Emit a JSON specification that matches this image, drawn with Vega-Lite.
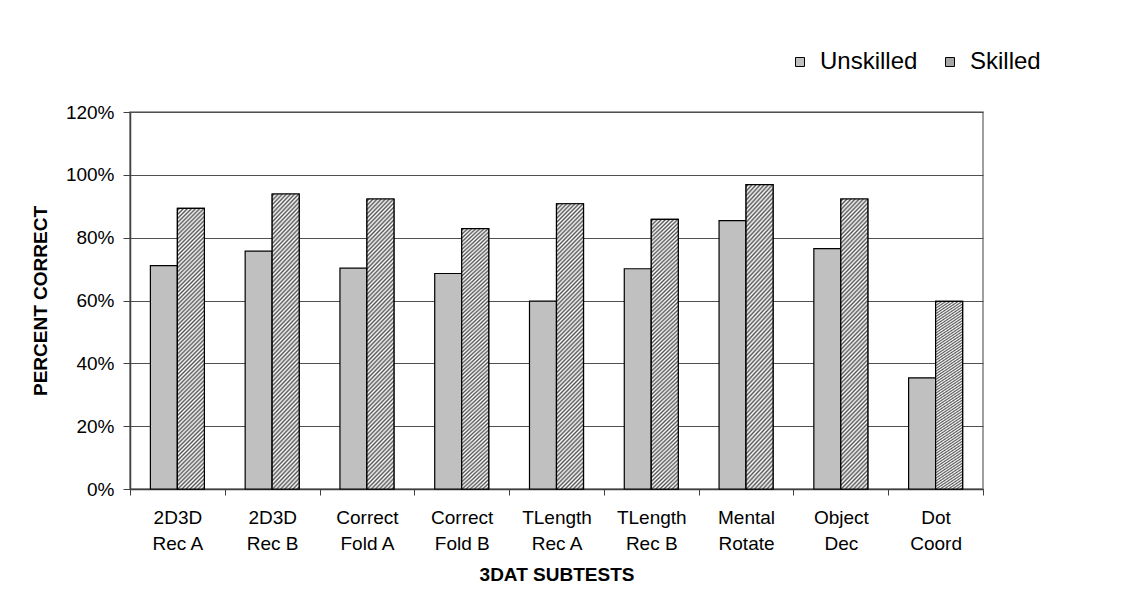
{
  "$schema": "https://vega.github.io/schema/vega-lite/v6.json",
  "width": 853,
  "height": 377,
  "autosize": {"type": "none"},
  "padding": {"left": 130, "top": 112, "right": 155, "bottom": 123},
  "background": "white",
  "config": {
    "font": "Liberation Sans",
    "view": {"stroke": "#808080", "strokeWidth": 1.5}
  },
  "data": {
    "values": [
      {"subtest": "2D3D Rec A", "group": "Unskilled", "pct": 0.711},
      {"subtest": "2D3D Rec A", "group": "Skilled", "pct": 0.893},
      {"subtest": "2D3D Rec B", "group": "Unskilled", "pct": 0.757},
      {"subtest": "2D3D Rec B", "group": "Skilled", "pct": 0.939},
      {"subtest": "Correct Fold A", "group": "Unskilled", "pct": 0.703},
      {"subtest": "Correct Fold A", "group": "Skilled", "pct": 0.923},
      {"subtest": "Correct Fold B", "group": "Unskilled", "pct": 0.686},
      {"subtest": "Correct Fold B", "group": "Skilled", "pct": 0.829},
      {"subtest": "TLength Rec A", "group": "Unskilled", "pct": 0.598},
      {"subtest": "TLength Rec A", "group": "Skilled", "pct": 0.908},
      {"subtest": "TLength Rec B", "group": "Unskilled", "pct": 0.701},
      {"subtest": "TLength Rec B", "group": "Skilled", "pct": 0.858},
      {"subtest": "Mental Rotate", "group": "Unskilled", "pct": 0.854},
      {"subtest": "Mental Rotate", "group": "Skilled", "pct": 0.969},
      {"subtest": "Object Dec", "group": "Unskilled", "pct": 0.765},
      {"subtest": "Object Dec", "group": "Skilled", "pct": 0.923},
      {"subtest": "Dot Coord", "group": "Unskilled", "pct": 0.354},
      {"subtest": "Dot Coord", "group": "Skilled", "pct": 0.597}
    ]
  },
  "encoding": {
    "x": {
      "field": "subtest",
      "type": "nominal",
      "sort": null,
      "scale": {"paddingInner": 0, "paddingOuter": 0},
      "axis": {
        "title": "3DAT SUBTESTS",
        "titleFontSize": 19,
        "titleFontWeight": "bold",
        "titleColor": "black",
        "titlePadding": 12,
        "labelAngle": 0,
        "labelFontSize": 19,
        "labelColor": "black",
        "labelExpr": "[slice(datum.label, 0, indexof(datum.label, ' ')), slice(datum.label, indexof(datum.label, ' ') + 1)]",
        "labelLineHeight": 26,
        "labelPadding": 13,
        "tickBand": "extent",
        "tickSize": 6,
        "tickColor": "#404040",
        "domainColor": "#404040",
        "domainWidth": 1.5,
        "grid": false
      }
    },
    "xOffset": {
      "field": "group",
      "type": "nominal",
      "sort": ["Unskilled", "Skilled"],
      "scale": {"paddingInner": 0, "paddingOuter": 0.755}
    },
    "y": {
      "field": "pct",
      "type": "quantitative",
      "scale": {"domain": [0, 1.2], "nice": false},
      "axis": {
        "title": "PERCENT CORRECT",
        "titleFontSize": 19,
        "titleFontWeight": "bold",
        "titleColor": "black",
        "titlePadding": 15,
        "values": [0, 0.2, 0.4, 0.6, 0.8, 1.0, 1.2],
        "format": ".0%",
        "labelFontSize": 19,
        "labelColor": "black",
        "labelPadding": 9,
        "tickSize": 7,
        "tickColor": "#404040",
        "domainColor": "#404040",
        "domainWidth": 1.5,
        "gridColor": "#505050",
        "gridWidth": 1
      }
    }
  },
  "layer": [
    {
      "mark": {"type": "bar", "stroke": "black", "strokeWidth": 1.2},
      "encoding": {
        "fill": {
          "field": "group",
          "type": "nominal",
          "sort": ["Unskilled", "Skilled"],
          "scale": {"domain": ["Unskilled", "Skilled"], "range": ["#c0c0c0", "#a6a6a6"]},
          "legend": {
            "title": null,
            "orient": "none",
            "direction": "horizontal",
            "legendX": 658,
            "legendY": -62,
            "symbolType": "square",
            "symbolSize": 81,
            "symbolStrokeColor": "black",
            "symbolStrokeWidth": 1,
            "symbolOpacity": 1,
            "labelFontSize": 24,
            "labelColor": "black",
            "labelOffset": 8,
            "columnPadding": 20,
            "encode": {
              "symbols": {
                "update": {
                  "stroke": {"value": "black"},
                  "strokeWidth": {"value": 1}
                }
              }
            }
          }
        }
      }
    },
    {
      "transform": [{"filter": "datum.group === 'Skilled'"}],
      "mark": {
        "type": "bar",
        "stroke": "black",
        "strokeWidth": 1.2,
        "fill": {
          "gradient": "linear",
          "x1": 0, "y1": 0, "x2": 0.1048, "y2": 1.0864,
          "stops": [
            {"offset": 0, "color": "#fff"}, {"offset": 0.0067, "color": "#555"}, {"offset": 0.0133, "color": "#fff"}, {"offset": 0.02, "color": "#555"}, {"offset": 0.0267, "color": "#fff"}, {"offset": 0.0333, "color": "#555"}, {"offset": 0.04, "color": "#fff"}, {"offset": 0.0467, "color": "#555"}, {"offset": 0.0533, "color": "#fff"}, {"offset": 0.06, "color": "#555"}, {"offset": 0.0667, "color": "#fff"}, {"offset": 0.0733, "color": "#555"}, {"offset": 0.08, "color": "#fff"}, {"offset": 0.0867, "color": "#555"}, {"offset": 0.0933, "color": "#fff"},
            {"offset": 0.1, "color": "#555"}, {"offset": 0.1067, "color": "#fff"}, {"offset": 0.1133, "color": "#555"}, {"offset": 0.12, "color": "#fff"}, {"offset": 0.1267, "color": "#555"}, {"offset": 0.1333, "color": "#fff"}, {"offset": 0.14, "color": "#555"}, {"offset": 0.1467, "color": "#fff"}, {"offset": 0.1533, "color": "#555"}, {"offset": 0.16, "color": "#fff"}, {"offset": 0.1667, "color": "#555"}, {"offset": 0.1733, "color": "#fff"}, {"offset": 0.18, "color": "#555"}, {"offset": 0.1867, "color": "#fff"}, {"offset": 0.1933, "color": "#555"},
            {"offset": 0.2, "color": "#fff"}, {"offset": 0.2067, "color": "#555"}, {"offset": 0.2133, "color": "#fff"}, {"offset": 0.22, "color": "#555"}, {"offset": 0.2267, "color": "#fff"}, {"offset": 0.2333, "color": "#555"}, {"offset": 0.24, "color": "#fff"}, {"offset": 0.2467, "color": "#555"}, {"offset": 0.2533, "color": "#fff"}, {"offset": 0.26, "color": "#555"}, {"offset": 0.2667, "color": "#fff"}, {"offset": 0.2733, "color": "#555"}, {"offset": 0.28, "color": "#fff"}, {"offset": 0.2867, "color": "#555"}, {"offset": 0.2933, "color": "#fff"},
            {"offset": 0.3, "color": "#555"}, {"offset": 0.3067, "color": "#fff"}, {"offset": 0.3133, "color": "#555"}, {"offset": 0.32, "color": "#fff"}, {"offset": 0.3267, "color": "#555"}, {"offset": 0.3333, "color": "#fff"}, {"offset": 0.34, "color": "#555"}, {"offset": 0.3467, "color": "#fff"}, {"offset": 0.3533, "color": "#555"}, {"offset": 0.36, "color": "#fff"}, {"offset": 0.3667, "color": "#555"}, {"offset": 0.3733, "color": "#fff"}, {"offset": 0.38, "color": "#555"}, {"offset": 0.3867, "color": "#fff"}, {"offset": 0.3933, "color": "#555"},
            {"offset": 0.4, "color": "#fff"}, {"offset": 0.4067, "color": "#555"}, {"offset": 0.4133, "color": "#fff"}, {"offset": 0.42, "color": "#555"}, {"offset": 0.4267, "color": "#fff"}, {"offset": 0.4333, "color": "#555"}, {"offset": 0.44, "color": "#fff"}, {"offset": 0.4467, "color": "#555"}, {"offset": 0.4533, "color": "#fff"}, {"offset": 0.46, "color": "#555"}, {"offset": 0.4667, "color": "#fff"}, {"offset": 0.4733, "color": "#555"}, {"offset": 0.48, "color": "#fff"}, {"offset": 0.4867, "color": "#555"}, {"offset": 0.4933, "color": "#fff"},
            {"offset": 0.5, "color": "#555"}, {"offset": 0.5067, "color": "#fff"}, {"offset": 0.5133, "color": "#555"}, {"offset": 0.52, "color": "#fff"}, {"offset": 0.5267, "color": "#555"}, {"offset": 0.5333, "color": "#fff"}, {"offset": 0.54, "color": "#555"}, {"offset": 0.5467, "color": "#fff"}, {"offset": 0.5533, "color": "#555"}, {"offset": 0.56, "color": "#fff"}, {"offset": 0.5667, "color": "#555"}, {"offset": 0.5733, "color": "#fff"}, {"offset": 0.58, "color": "#555"}, {"offset": 0.5867, "color": "#fff"}, {"offset": 0.5933, "color": "#555"},
            {"offset": 0.6, "color": "#fff"}, {"offset": 0.6067, "color": "#555"}, {"offset": 0.6133, "color": "#fff"}, {"offset": 0.62, "color": "#555"}, {"offset": 0.6267, "color": "#fff"}, {"offset": 0.6333, "color": "#555"}, {"offset": 0.64, "color": "#fff"}, {"offset": 0.6467, "color": "#555"}, {"offset": 0.6533, "color": "#fff"}, {"offset": 0.66, "color": "#555"}, {"offset": 0.6667, "color": "#fff"}, {"offset": 0.6733, "color": "#555"}, {"offset": 0.68, "color": "#fff"}, {"offset": 0.6867, "color": "#555"}, {"offset": 0.6933, "color": "#fff"},
            {"offset": 0.7, "color": "#555"}, {"offset": 0.7067, "color": "#fff"}, {"offset": 0.7133, "color": "#555"}, {"offset": 0.72, "color": "#fff"}, {"offset": 0.7267, "color": "#555"}, {"offset": 0.7333, "color": "#fff"}, {"offset": 0.74, "color": "#555"}, {"offset": 0.7467, "color": "#fff"}, {"offset": 0.7533, "color": "#555"}, {"offset": 0.76, "color": "#fff"}, {"offset": 0.7667, "color": "#555"}, {"offset": 0.7733, "color": "#fff"}, {"offset": 0.78, "color": "#555"}, {"offset": 0.7867, "color": "#fff"}, {"offset": 0.7933, "color": "#555"},
            {"offset": 0.8, "color": "#fff"}, {"offset": 0.8067, "color": "#555"}, {"offset": 0.8133, "color": "#fff"}, {"offset": 0.82, "color": "#555"}, {"offset": 0.8267, "color": "#fff"}, {"offset": 0.8333, "color": "#555"}, {"offset": 0.84, "color": "#fff"}, {"offset": 0.8467, "color": "#555"}, {"offset": 0.8533, "color": "#fff"}, {"offset": 0.86, "color": "#555"}, {"offset": 0.8667, "color": "#fff"}, {"offset": 0.8733, "color": "#555"}, {"offset": 0.88, "color": "#fff"}, {"offset": 0.8867, "color": "#555"}, {"offset": 0.8933, "color": "#fff"},
            {"offset": 0.9, "color": "#555"}, {"offset": 0.9067, "color": "#fff"}, {"offset": 0.9133, "color": "#555"}, {"offset": 0.92, "color": "#fff"}, {"offset": 0.9267, "color": "#555"}, {"offset": 0.9333, "color": "#fff"}, {"offset": 0.94, "color": "#555"}, {"offset": 0.9467, "color": "#fff"}, {"offset": 0.9533, "color": "#555"}, {"offset": 0.96, "color": "#fff"}, {"offset": 0.9667, "color": "#555"}, {"offset": 0.9733, "color": "#fff"}, {"offset": 0.98, "color": "#555"}, {"offset": 0.9867, "color": "#fff"}, {"offset": 0.9933, "color": "#555"},
            {"offset": 1, "color": "#fff"}
          ]
        }
      }
    }
  ]
}
